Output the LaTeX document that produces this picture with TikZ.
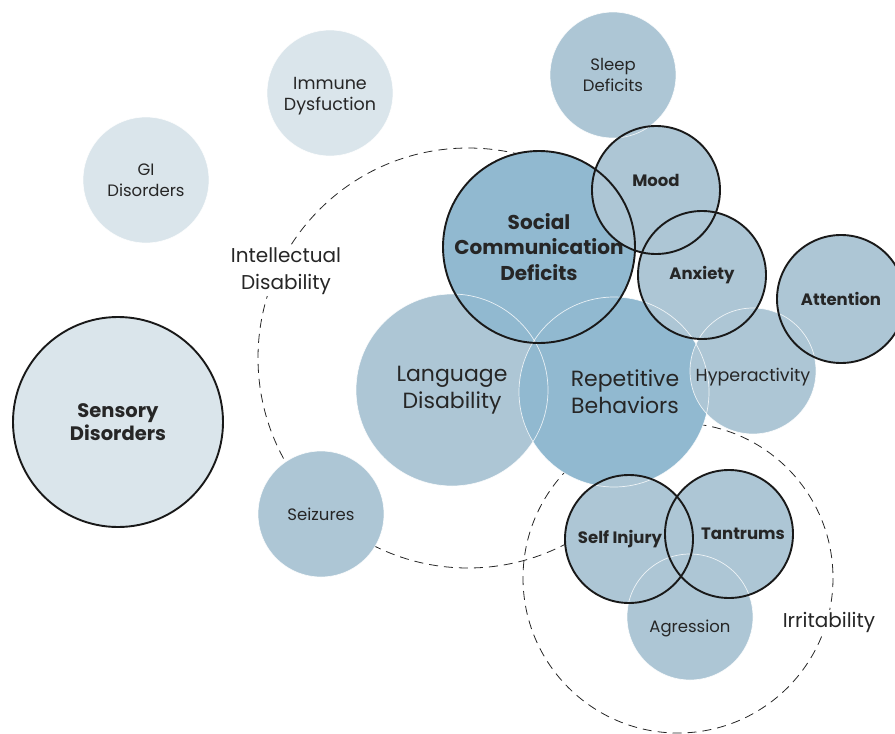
\documentclass[tikz,border=0pt]{standalone}
\usepackage{fontspec}
\setmainfont{Poppins}
\usetikzlibrary{calc}
\definecolor{light}{HTML}{DAE5EB}
\definecolor{mid}{HTML}{ADC6D5}
\definecolor{deep}{HTML}{91B9D0}
\definecolor{txt}{HTML}{262626}
\tikzset{
  bub/.style={circle, inner sep=0pt, outer sep=0pt, minimum size=#1, align=center, text=txt},
  wline/.style={draw=white, line width=0.7pt, opacity=0.8},
  kline/.style={draw=black!90, line width=1.9pt},
  dline/.style={draw=black!85, line width=0.8pt, dash pattern=on 9pt off 6pt},
  sm/.style={font=\fontsize{16.5}{21}\selectfont},
  lg/.style={font=\fontsize{22}{27}\selectfont},
  lab/.style={font=\fontsize{20}{27}\selectfont, fill=white, inner sep=2pt, align=center, text=txt},
  bsm/.style={font=\fontsize{16.5}{20}\selectfont\bfseries},
  blg/.style={font=\fontsize{20}{25.5}\selectfont\bfseries},
}
\begin{document}
\begin{tikzpicture}[x=1pt,y=-1pt]
\useasboundingbox (0,0) rectangle (895,734);
% dashed group circles
\coordinate (idc) at (468,358);
\coordinate (irc) at (678,578);
\draw[dline] (idc) circle[radius=210];
\draw[dline] (irc) circle[radius=155];
\node[lab] (idl) at (286,271) {Intellectual\\Disability};
\node[lab] (irl) at (829,622) {Irritability};
% bubbles
\node[bub=126, fill=light, sm] (gi) at (146,180) {GI\\Disorders};
\node[bub=126, fill=light, sm, font=\fontsize{17.5}{21}\selectfont] (imm) at (330,93) {\\[-3pt]Immune\\Dysfuction};
\node[bub=210, fill=light, blg, font=\fontsize{19.5}{23.5}\selectfont\bfseries] (sens) at (118,422) {Sensory\\Disorders};
\node[bub=126, fill=mid, sm] (sleep) at (613,75) {Sleep\\Deficits};
\node[bub=192, fill=mid, lg] (lang) at (452,390) {Language\\Disability};
\node[bub=190, fill=deep, lg] (rep) at (614,392) {\hspace*{22pt}Repetitive\\\hspace*{22pt}Behaviors};
\node[bub=192, fill=deep, blg] (soc) at (539,247) {Social\\Communication\\Deficits};
\node[bub=126, fill=mid, sm, font=\fontsize{17.5}{21}\selectfont] (hyp) at (753,371) {\raisebox{-10pt}[0pt][0pt]{Hyperactivity}};
\node[bub=126, fill=mid, sm] (seiz) at (321,514) {Seizures};
\node[bub=128, fill=mid, bsm] (mood) at (656,190) {\raisebox{4pt}[0pt][0pt]{Mood}};
\node[bub=128, fill=mid, bsm] (anx) at (702,275) {Anxiety};
\node[bub=128, fill=mid, bsm] (att) at (841,299) {Attention};
\node[bub=128, fill=mid, bsm] (self) at (629,539) {Self Injury\hspace*{18pt}};
\node[bub=128, fill=mid, bsm] (tant) at (729,534) {\hspace*{28pt}Tantrums};
\node[bub=126, fill=mid, sm] (agr) at (690,617) {\raisebox{-15pt}[0pt][0pt]{Agression}};
% white rims
\foreach \b in {gi,imm,sleep,lang,rep,soc,hyp,seiz,mood,anx,att,self,tant,agr}
  \draw[wline] let \p1=(\b.center), \p2=(\b.east) in (\p1) circle[radius={\x2-\x1}];
% black rims
\foreach \b in {sens,soc,mood,anx,att,self,tant}
  \draw[kline] let \p1=(\b.center), \p2=(\b.east) in (\p1) circle[radius={\x2-\x1}];
\end{tikzpicture}
\end{document}
